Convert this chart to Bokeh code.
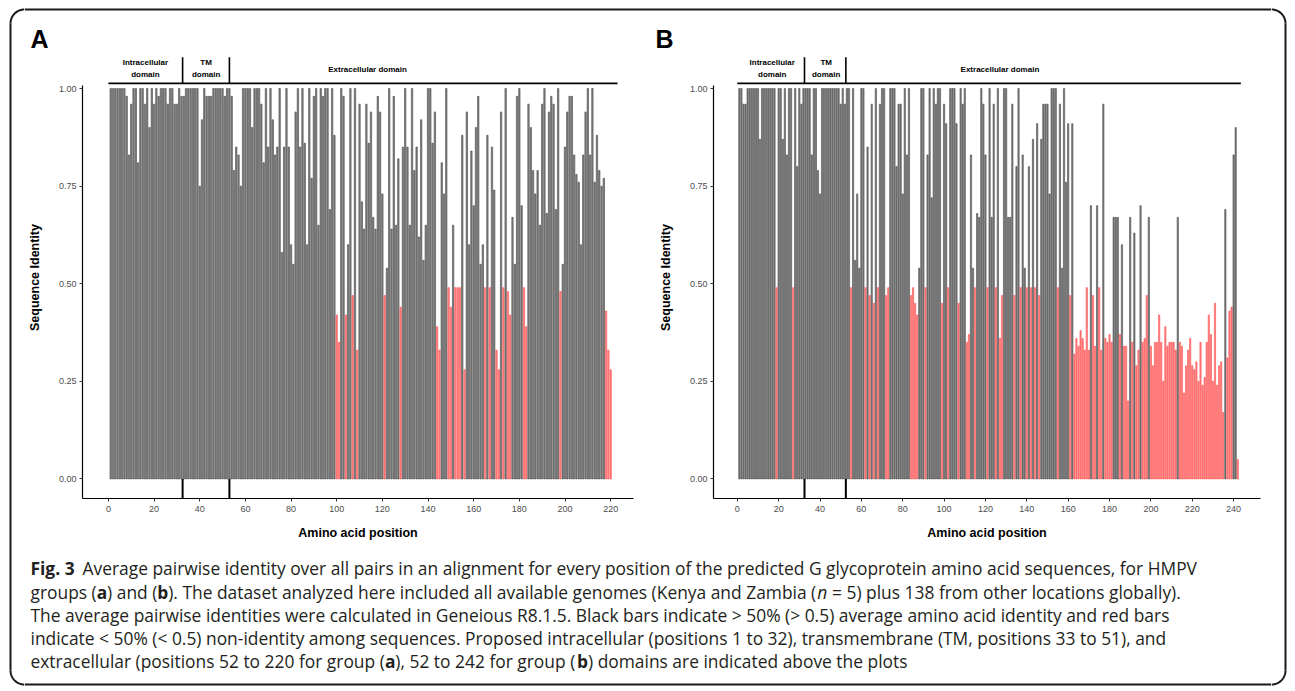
import math
from bokeh.plotting import figure
from bokeh.models import ColumnDataSource, Range1d, FixedTicker, NumeralTickFormatter
from bokeh.layouts import column, row
from bokeh.embed import file_html
from bokeh.resources import INLINE
from bokeh.core.properties import value

# ---------------- data ----------------
identity_a = [
    1.00, 1.00, 1.00, 1.00, 1.00, 1.00, 1.00, 0.98, 0.83, 0.96,
    1.00, 1.00, 0.81, 1.00, 1.00, 0.96, 1.00, 0.90, 1.00, 0.96,
    1.00, 0.98, 1.00, 1.00, 1.00, 0.96, 1.00, 1.00, 0.96, 0.96,
    1.00, 0.98, 0.98, 1.00, 1.00, 1.00, 1.00, 1.00, 1.00, 0.75,
    0.92, 1.00, 0.98, 0.98, 0.98, 1.00, 1.00, 1.00, 1.00, 1.00,
    0.98, 1.00, 1.00, 0.98, 0.79, 0.85, 0.83, 0.75, 1.00, 1.00,
    1.00, 1.00, 0.90, 1.00, 1.00, 1.00, 0.96, 0.81, 1.00, 0.85,
    1.00, 0.92, 0.83, 0.85, 1.00, 0.58, 0.85, 1.00, 0.85, 0.60,
    0.55, 0.94, 1.00, 0.85, 1.00, 0.86, 0.60, 1.00, 0.77, 0.98,
    1.00, 0.65, 1.00, 0.98, 1.00, 1.00, 0.69, 1.00, 0.88, 0.42,
    0.35, 1.00, 0.98, 0.42, 0.60, 1.00, 0.47, 1.00, 0.33, 0.96,
    0.71, 0.64, 0.96, 0.86, 0.94, 0.67, 0.64, 0.98, 0.94, 0.73,
    0.47, 0.54, 1.00, 0.64, 0.98, 0.65, 0.82, 0.44, 0.85, 1.00,
    0.85, 0.65, 1.00, 0.79, 0.85, 0.62, 0.92, 0.56, 0.65, 1.00,
    1.00, 0.86, 0.94, 0.39, 0.33, 0.81, 0.73, 1.00, 0.49, 0.44,
    0.65, 0.49, 0.49, 0.49, 0.88, 0.28, 0.94, 0.60, 0.84, 0.70,
    0.90, 0.98, 0.55, 0.60, 0.49, 0.88, 0.49, 0.85, 0.74, 0.33,
    0.28, 0.94, 0.49, 1.00, 0.48, 0.42, 0.67, 0.55, 0.98, 1.00,
    0.70, 0.49, 0.39, 0.96, 0.90, 0.79, 0.73, 0.79, 0.65, 0.96,
    1.00, 0.68, 0.94, 0.98, 0.96, 0.69, 1.00, 0.48, 0.55, 0.85,
    0.94, 0.98, 0.98, 0.83, 0.78, 0.76, 0.60, 0.83, 0.94, 1.00,
    0.83, 1.00, 0.76, 0.88, 0.79, 0.75, 0.77, 0.43, 0.33, 0.28,
]

identity_b = [
    1.00, 1.00, 0.96, 0.96, 1.00, 1.00, 1.00, 1.00, 1.00, 1.00,
    0.87, 1.00, 1.00, 1.00, 1.00, 1.00, 1.00, 1.00, 0.49, 1.00,
    1.00, 0.87, 1.00, 0.83, 1.00, 1.00, 0.49, 1.00, 0.80, 1.00,
    0.96, 1.00, 1.00, 1.00, 1.00, 0.83, 1.00, 1.00, 0.79, 0.73,
    1.00, 1.00, 1.00, 1.00, 1.00, 1.00, 1.00, 1.00, 1.00, 0.96,
    1.00, 0.96, 1.00, 1.00, 0.49, 1.00, 0.56, 0.73, 0.54, 1.00,
    1.00, 0.49, 0.85, 0.47, 0.96, 0.45, 1.00, 0.49, 0.96, 1.00,
    1.00, 0.47, 0.49, 1.00, 1.00, 1.00, 0.80, 0.96, 0.96, 0.73,
    1.00, 0.83, 1.00, 0.47, 0.49, 0.45, 0.42, 0.54, 1.00, 1.00,
    0.49, 0.83, 1.00, 0.72, 1.00, 0.96, 1.00, 1.00, 0.45, 0.96,
    0.91, 0.49, 1.00, 1.00, 1.00, 0.91, 0.45, 1.00, 0.96, 1.00,
    0.35, 0.37, 0.83, 0.54, 0.49, 0.68, 0.67, 1.00, 0.96, 0.83,
    0.49, 1.00, 0.67, 0.96, 0.49, 1.00, 0.36, 0.47, 1.00, 1.00,
    0.67, 0.67, 0.96, 0.47, 0.80, 1.00, 0.49, 0.83, 0.54, 0.49,
    0.80, 0.49, 0.87, 0.49, 0.91, 0.47, 0.87, 0.96, 0.96, 0.96,
    0.73, 1.00, 1.00, 1.00, 0.49, 0.96, 0.54, 1.00, 0.76, 0.91,
    0.47, 0.91, 0.32, 0.36, 0.34, 0.38, 0.36, 0.33, 0.49, 0.33,
    0.70, 0.47, 0.34, 0.70, 0.49, 0.33, 0.96, 0.36, 0.35, 0.37,
    0.35, 0.67, 0.67, 0.67, 0.37, 0.60, 0.34, 0.34, 0.20, 0.67,
    0.35, 0.63, 0.29, 0.33, 0.70, 0.35, 0.36, 0.47, 0.67, 0.34,
    0.29, 0.35, 0.35, 0.42, 0.35, 0.25, 0.39, 0.34, 0.35, 0.35,
    0.35, 0.33, 0.67, 0.35, 0.34, 0.22, 0.29, 0.33, 0.36, 0.29,
    0.28, 0.30, 0.25, 0.35, 0.24, 0.26, 0.35, 0.42, 0.37, 0.25,
    0.45, 0.24, 0.29, 0.30, 0.17, 0.69, 0.31, 0.43, 0.44, 0.83,
    0.90, 0.05,
]

x_ticks_a = [0, 20, 40, 60, 80, 100, 120, 140, 160, 180, 200, 220]
x_ticks_b = [0, 20, 40, 60, 80, 100, 120, 140, 160, 180, 200, 220, 240]
y_ticks = [0.0, 0.25, 0.5, 0.75, 1.0]
threshold = 0.5

domain_lines = ["Intracellular", "domain", "TM", "domain", "Extracellular domain"]
domain_bounds_a = [32.5, 53.0]
domain_bounds_b = [32.5, 52.5]
domain_end_a = 223.0
domain_end_b = 243.5

x_label = "Amino acid position"
y_label = "Sequence Identity"
panel_letters = ["A", "B"]

caption_lines = [0, 0, 1, 1, 1, 1, 1, 1, 1, 2, 3, 4, 4, 4, 4, 4]
caption_texts = [
    "Fig. 3",
    "Average pairwise identity over all pairs in an alignment for every position of the predicted G glycoprotein amino acid sequences, for HMPV",
    "groups (", "a", ") and (", "b",
    "). The dataset analyzed here included all available genomes (Kenya and Zambia (",
    "n", "= 5) plus 138 from other locations globally).",
    "The average pairwise identities were calculated in Geneious R8.1.5. Black bars indicate > 50% (> 0.5) average amino acid identity and red bars",
    "indicate < 50% (< 0.5) non-identity among sequences. Proposed intracellular (positions 1 to 32), transmembrane (TM, positions 33 to 51), and",
    "extracellular (positions 52 to 220 for group (", "a", "), 52 to 242 for group (", "b",
    ") domains are indicated above the plots",
]
caption_styles = ["bold", "normal", "normal", "bold", "normal", "bold", "normal", "italic", "normal",
                  "normal", "normal", "normal", "bold", "normal", "bold", "normal"]

# ---------------- layout / style ----------------
caption_x = [6, 58, 6, 72.3, 82.6, 132.7, 143.7, 792.8, 807.5, 6, 6, 6, 360.5, 370.8, 552.5, 563.5]
caption_line_y = [19, 43, 66, 89, 112]

FONT = "Liberation Sans"
CAP_FONT = "Open Sans"
GRAY_FILL, GRAY_LINE = "#8a8a8a", "#2e2e2e"
RED_FILL, RED_LINE = "#ff8c8c", "#ff3838"
BORDER = "#1a1a1a"

LEFT_W, RIGHT_W = 24, 20
INNER_W = 1247
TOP_H = 56
PANEL_H = 492
CAP_H = 141
TOTAL_H = TOP_H + PANEL_H + CAP_H
RADIUS = 14
BORDER_TOP = 9
BORDER_BOTTOM = TOTAL_H - 5
Y0, Y1 = -0.05, 1.082


def blank(width, height):
    p = figure(width=width, height=height, x_range=Range1d(0, width), y_range=Range1d(height, 0),
               output_backend="svg", toolbar_location=None, min_border=0,
               x_axis_type=None, y_axis_type=None)
    p.xgrid.visible = False
    p.ygrid.visible = False
    p.outline_line_color = None
    return p


def arc_pts(cx, cy, a0, a1, r=RADIUS, n=24):
    ts = [math.radians(a0 + (a1 - a0) * i / n) for i in range(n + 1)]
    return [cx + r * math.cos(t) for t in ts], [cy + r * math.sin(t) for t in ts]


def make_panel(vals, xr, ticks, bounds, dom_end, centers, width, left, right):
    n = len(vals)
    low = [v < threshold for v in vals]
    src = ColumnDataSource(dict(
        x=list(range(1, n + 1)), top=vals,
        fill=[RED_FILL if l else GRAY_FILL for l in low],
        line=[RED_LINE if l else GRAY_LINE for l in low],
    ))
    p = figure(width=width, height=PANEL_H, x_range=Range1d(*xr), y_range=Range1d(Y0, Y1),
               output_backend="svg", toolbar_location=None,
               min_border_left=left, min_border_right=right,
               min_border_top=0, min_border_bottom=50)
    p.vbar(x="x", top="top", bottom=0, width=0.62, fill_color="fill", line_color="line",
           line_width=0.5, source=src)

    p.segment(x0=bounds, x1=bounds, y0=[Y0] * 2, y1=[0.0] * 2, line_color="black", line_width=2)
    p.segment(x0=bounds, x1=bounds, y0=[1.013] * 2, y1=[1.08] * 2, line_color="black", line_width=1.6)
    p.segment(x0=[0.0], x1=[dom_end], y0=[1.013], y1=[1.013], line_color="black", line_width=1.8)
    p.text(x=centers, y=[1.066, 1.036, 1.066, 1.036, 1.049], text=domain_lines,
           text_font=value(FONT), text_font_style="bold", text_font_size="8px",
           text_align="center", text_baseline="middle", text_color="black")

    p.xaxis.ticker = FixedTicker(ticks=ticks)
    p.yaxis.ticker = FixedTicker(ticks=y_ticks)
    p.yaxis.formatter = NumeralTickFormatter(format="0.00")
    p.yaxis.bounds = (Y0, 1.008)
    for ax in (p.xaxis[0], p.yaxis[0]):
        ax.axis_line_color = "black"
        ax.axis_line_width = 1.2
        ax.major_tick_line_color = "#333333"
        ax.major_tick_out = 3
        ax.major_tick_in = 0
        ax.minor_tick_line_color = None
        ax.major_label_text_font = FONT
        ax.major_label_text_font_size = "9px"
        ax.major_label_text_color = "#4d4d4d"
        ax.axis_label_text_font = FONT
        ax.axis_label_text_font_style = "bold"
        ax.axis_label_text_font_size = "12.5px"
        ax.axis_label_text_color = "black"
    p.xaxis.axis_label = x_label
    p.yaxis.axis_label = y_label
    p.xaxis.major_label_standoff = 4
    p.yaxis.major_label_standoff = 3
    p.xaxis.axis_label_standoff = 11
    p.yaxis.axis_label_standoff = 14
    p.xgrid.visible = False
    p.ygrid.visible = False
    p.outline_line_color = None
    return p


pa = make_panel(identity_a, (-11.35, 230.0), x_ticks_a, domain_bounds_a, domain_end_a,
                [16.2, 16.2, 42.8, 42.8, 113.5], 624, 56, 15)
pb = make_panel(identity_b, (-11.5, 253.0), x_ticks_b, domain_bounds_b, domain_end_b,
                [16.9, 16.9, 43.0, 43.0, 127.0], 623, 65, 11)

# top strip: border top line + panel letters
top = blank(INNER_W, TOP_H)
top.segment(x0=[0], x1=[INNER_W], y0=[BORDER_TOP], y1=[BORDER_TOP], line_color=BORDER, line_width=2)
top.text(x=[6, 631], y=[38, 38], text=panel_letters, text_font=value(FONT), text_font_style="bold",
         text_font_size="25px", text_align="left", text_baseline="middle", text_color="black")

# caption
cap = blank(INNER_W, CAP_H)
cap.segment(x0=[0], x1=[INNER_W], y0=[BORDER_BOTTOM - TOP_H - PANEL_H] * 1,
            y1=[BORDER_BOTTOM - TOP_H - PANEL_H], line_color=BORDER, line_width=2)
for style in ("normal", "bold", "italic"):
    idx = [i for i, s in enumerate(caption_styles) if s == style]
    cap.text(x=[caption_x[i] for i in idx], y=[caption_line_y[caption_lines[i]] for i in idx],
             text=[caption_texts[i] for i in idx], text_font=value(CAP_FONT), text_font_style=style,
             text_font_size="17.4px", text_align="left", text_baseline="middle", text_color="#231f20")

# side strips with rounded corners
lx = LEFT_W - RADIUS
lside = blank(LEFT_W, TOTAL_H)
ax1, ay1 = arc_pts(LEFT_W, BORDER_TOP + RADIUS, 180, 270)
ax2, ay2 = arc_pts(LEFT_W, BORDER_BOTTOM - RADIUS, 90, 180)
lside.line(x=ax1, y=ay1, line_color=BORDER, line_width=2)
lside.line(x=ax2, y=ay2, line_color=BORDER, line_width=2)
lside.segment(x0=[lx], x1=[lx], y0=[BORDER_TOP + RADIUS], y1=[BORDER_BOTTOM - RADIUS],
              line_color=BORDER, line_width=2)

rx = RADIUS
rside = blank(RIGHT_W, TOTAL_H)
bx1, by1 = arc_pts(0, BORDER_TOP + RADIUS, 270, 360)
bx2, by2 = arc_pts(0, BORDER_BOTTOM - RADIUS, 0, 90)
rside.line(x=bx1, y=by1, line_color=BORDER, line_width=2)
rside.line(x=bx2, y=by2, line_color=BORDER, line_width=2)
rside.segment(x0=[rx], x1=[rx], y0=[BORDER_TOP + RADIUS], y1=[BORDER_BOTTOM - RADIUS],
              line_color=BORDER, line_width=2)

layout = row(lside, column(top, row(pa, pb), cap), rside)

open("out.html", "w").write(file_html(layout, INLINE))
